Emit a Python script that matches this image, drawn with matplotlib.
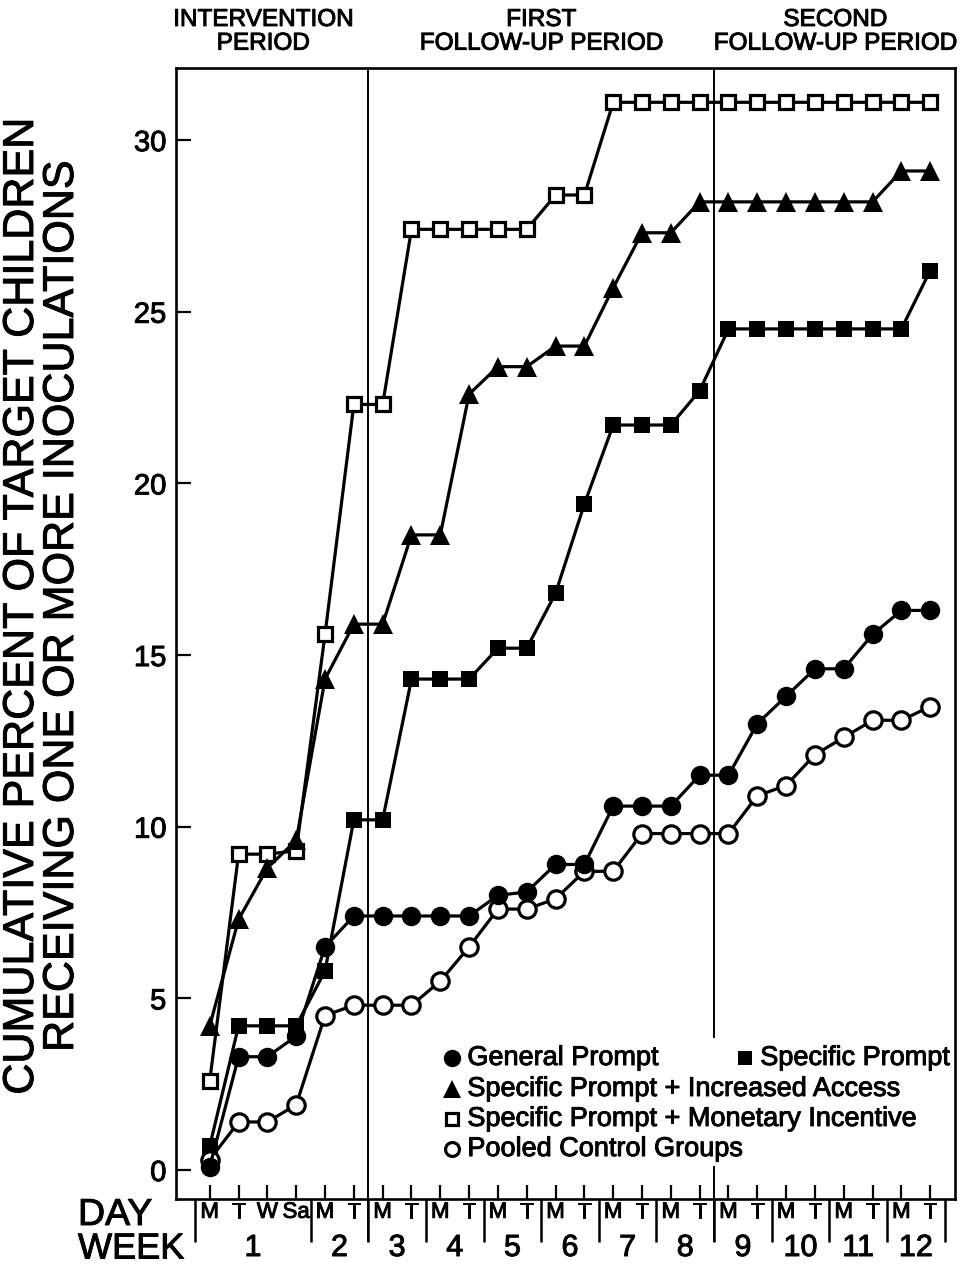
### 1. MODULE IMPORTS
import matplotlib
matplotlib.use('Agg')
from matplotlib import pyplot as plt
from matplotlib import transforms as mtransforms
from matplotlib import patheffects as pe

plt.rcParams['font.family'] = ['Liberation Sans', 'DejaVu Sans']
heavy = [pe.withStroke(linewidth=0.7, foreground='black')]

### 2. DATA
day_labels = ['M', 'T', 'W', 'Sa', 'M', 'T', 'M', 'T', 'M', 'T', 'M', 'T', 'M', 'T',
              'M', 'T', 'M', 'T', 'M', 'T', 'M', 'T', 'M', 'T', 'M', 'T']
week_labels = ['1', '2', '3', '4', '5', '6', '7', '8', '9', '10', '11', '12']
week_sizes = [4, 2, 2, 2, 2, 2, 2, 2, 2, 2, 2, 2]
slots = list(range(len(day_labels)))

general_prompt = [0.1, 3.3, 3.3, 3.9, 6.5, 7.4, 7.4, 7.4, 7.4, 7.4, 8.0, 8.1, 8.9,
                  8.9, 10.6, 10.6, 10.6, 11.5, 11.5, 13.0, 13.8, 14.6, 14.6, 15.6, 16.3, 16.3]
specific_prompt = [0.7, 4.2, 4.2, 4.2, 5.8, 10.2, 10.2, 14.3, 14.3, 14.3, 15.2, 15.2, 16.8,
                   19.4, 21.7, 21.7, 21.7, 22.7, 24.5, 24.5, 24.5, 24.5, 24.5, 24.5, 24.5, 26.2]
increased_access = [4.2, 7.3, 8.8, 9.6, 14.3, 15.9, 15.9, 18.5, 18.5, 22.6, 23.4, 23.4, 24.0,
                    24.0, 25.7, 27.3, 27.3, 28.2, 28.2, 28.2, 28.2, 28.2, 28.2, 28.2, 29.1, 29.1]
monetary_incentive = [2.6, 9.2, 9.2, 9.3, 15.6, 22.3, 22.3, 27.4, 27.4, 27.4, 27.4, 27.4, 28.4,
                      28.4, 31.1, 31.1, 31.1, 31.1, 31.1, 31.1, 31.1, 31.1, 31.1, 31.1, 31.1, 31.1]
pooled_control = [0.3, 1.4, 1.4, 1.9, 4.5, 4.8, 4.8, 4.8, 5.5, 6.5, 7.6, 7.6, 7.9,
                  8.7, 8.7, 9.8, 9.8, 9.8, 9.8, 10.9, 11.2, 12.1, 12.6, 13.1, 13.1, 13.5]

period_ends = [5.5, 17.5]   # last slot index + 0.5 of intervention / first follow-up
period_names = ['INTERVENTION\nPERIOD', 'FIRST\nFOLLOW-UP PERIOD', 'SECOND\nFOLLOW-UP PERIOD']
period_centers = [1.85, 11.5, 21.7]

### 3. FIGURE
fig = plt.figure(figsize=(9.63, 12.66), dpi=100)
ax = fig.add_axes([0.1828, 0.0529, 0.8089, 0.8934])
ax.set_xlim(-1.17, 25.86)
ax.set_ylim(-0.845, 32.1)

lw = 2.3
series = [
    (monetary_incentive, dict(marker='s', ms=10, mfc='white', mew=2.3)),
    (increased_access, dict(marker='^', ms=14, mfc='black', mew=0)),
    (specific_prompt, dict(marker='s', ms=11, mfc='black', mew=0)),
    (pooled_control, dict(marker='o', ms=12.5, mfc='white', mew=2.3)),
    (general_prompt, dict(marker='o', ms=14, mfc='black', mew=0)),
]
for values, style in series:
    ax.plot(slots, values, color='black', lw=lw, mec='black', **style)

for s in ax.spines.values():
    s.set_linewidth(1.9)

ax.set_yticks([0, 5, 10, 15, 20, 25, 30])
ax.tick_params(axis='y', direction='in', length=11, width=1.6, labelsize=21, pad=7)
ax.set_xticks(slots, day_labels)
ax.tick_params(axis='x', direction='in', length=10, width=1.6, labelsize=16, pad=2)
for lab in ax.get_xticklabels() + ax.get_yticklabels():
    lab.set_path_effects(heavy)

# period dividers and week separators below the axis
bt = mtransforms.blended_transform_factory(ax.transData, ax.transAxes)
ax.vlines(period_ends[0], -0.038, 1, color='black', lw=1.4, transform=bt, clip_on=False)
ax.vlines(period_ends[1], 0.142, 1, color='black', lw=1.4, transform=bt)
ax.vlines(period_ends[1], -0.038, 0.029, color='black', lw=1.4, transform=bt, clip_on=False)

start = -0.5
for size, label in zip(week_sizes, week_labels):
    ax.vlines(start, -0.038, 0, color='black', lw=1.8, transform=bt, clip_on=False)
    ax.text(start + size / 2, -0.0433, label, transform=bt, ha='center', va='center',
            fontsize=22, path_effects=heavy)
    start += size
ax.vlines(start, -0.038, 0, color='black', lw=1.8, transform=bt, clip_on=False)

fig.text(0.081, 0.0403, 'DAY', fontsize=27, ha='left', va='center', path_effects=heavy)
fig.text(0.081, 0.0134, 'WEEK', fontsize=26, ha='left', va='center', path_effects=heavy)

for name, xc in zip(period_names, period_centers):
    ax.text(xc, 1.032, name, transform=bt, ha='center', va='center', fontsize=17.5,
            linespacing=1.1, path_effects=heavy)

fig.text(0.0436, 0.5205,
         'CUMULATIVE PERCENT OF TARGET CHILDREN\nRECEIVING ONE OR MORE INOCULATIONS',
         rotation=90, ha='center', va='center', fontsize=31, linespacing=1.0,
         path_effects=heavy)

# legend
legend_items = [
    (0.354, 0.1247, dict(marker='o', ms=12.5, mfc='black', mew=0), 'General Prompt'),
    (0.730, 0.1247, dict(marker='s', ms=10.5, mfc='black', mew=0), 'Specific Prompt'),
    (0.354, 0.0973, dict(marker='^', ms=13, mfc='black', mew=0), 'Specific Prompt + Increased Access'),
    (0.354, 0.0708, dict(marker='s', ms=9, mfc='white', mew=2.3), 'Specific Prompt + Monetary Incentive'),
    (0.354, 0.0442, dict(marker='o', ms=10, mfc='white', mew=2.3), 'Pooled Control Groups'),
]
for x, y, style, text in legend_items:
    ax.plot([x], [y], transform=ax.transAxes, color='black', mec='black', ls='none', **style)
    ax.text(x + 0.02, y, text, transform=ax.transAxes, ha='left', va='center', fontsize=19.5,
            path_effects=heavy)

plt.savefig('out.png', dpi=100)
